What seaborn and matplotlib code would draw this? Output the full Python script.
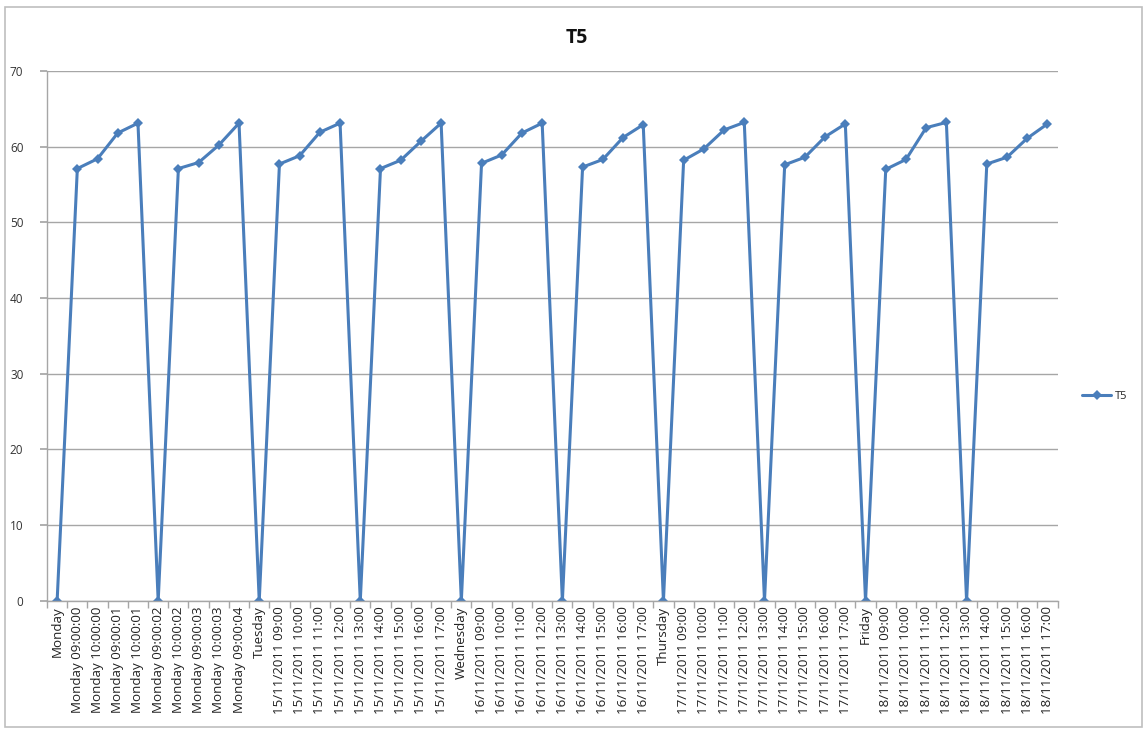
import matplotlib
matplotlib.use("Agg")
import matplotlib.pyplot as plt
import seaborn as sns
import pandas as pd
from matplotlib.patches import Rectangle

# Category labels along the x axis
categories = [
    "Monday", "Monday 09:00:00", "Monday 10:00:00", "Monday 09:00:01", "Monday 10:00:01",
    "Monday 09:00:02", "Monday 10:00:02", "Monday 09:00:03", "Monday 10:00:03", "Monday 09:00:04",
    "Tuesday", "15/11/2011 09:00", "15/11/2011 10:00", "15/11/2011 11:00", "15/11/2011 12:00",
    "15/11/2011 13:00", "15/11/2011 14:00", "15/11/2011 15:00", "15/11/2011 16:00", "15/11/2011 17:00",
    "Wednesday", "16/11/2011 09:00", "16/11/2011 10:00", "16/11/2011 11:00", "16/11/2011 12:00",
    "16/11/2011 13:00", "16/11/2011 14:00", "16/11/2011 15:00", "16/11/2011 16:00", "16/11/2011 17:00",
    "Thursday", "17/11/2011 09:00", "17/11/2011 10:00", "17/11/2011 11:00", "17/11/2011 12:00",
    "17/11/2011 13:00", "17/11/2011 14:00", "17/11/2011 15:00", "17/11/2011 16:00", "17/11/2011 17:00",
    "Friday", "18/11/2011 09:00", "18/11/2011 10:00", "18/11/2011 11:00", "18/11/2011 12:00",
    "18/11/2011 13:00", "18/11/2011 14:00", "18/11/2011 15:00", "18/11/2011 16:00", "18/11/2011 17:00",
]

# T5 readings
t5 = [
    0, 57.1, 58.4, 61.8, 63.1,
    0, 57.1, 57.9, 60.2, 63.1,
    0, 57.7, 58.8, 61.9, 63.1,
    0, 57.1, 58.2, 60.7, 63.1,
    0, 57.8, 58.9, 61.8, 63.1,
    0, 57.3, 58.3, 61.2, 62.9,
    0, 58.2, 59.7, 62.2, 63.2,
    0, 57.6, 58.6, 61.3, 63.0,
    0, 57.0, 58.3, 62.5, 63.2,
    0, 57.7, 58.6, 61.1, 63.0,
]

y_ticks = [0, 10, 20, 30, 40, 50, 60, 70]

sns.set_theme(style="white")
plt.rcParams["font.family"] = ["Open Sans", "DejaVu Sans"]

df = pd.DataFrame({"pos": range(len(categories)), "T5": t5})

fig = plt.figure(figsize=(11.47, 7.31), dpi=100)
fig.patch.set_facecolor("white")
fig.patches.append(Rectangle((0.004, 0.006), 0.992, 0.985, transform=fig.transFigure,
                             fill=False, edgecolor="#bfbfbf", linewidth=1.2))

ax = fig.add_axes([0.041, 0.178, 0.881, 0.725])
line_color = "#4a7ebb"
sns.lineplot(data=df, x="pos", y="T5", ax=ax, sort=False, color=line_color,
             linewidth=2.2, marker="D", markersize=5.5, markeredgewidth=0,
             label="T5", legend=False)

ax.set_xlim(-0.5, len(categories) - 0.5)
ax.set_ylim(0, 70)
ax.set_yticks(y_ticks)
ax.set_yticklabels([str(v) for v in y_ticks], fontsize=8.5, color="#333333")
ax.yaxis.grid(True, color="#a6a6a6", linewidth=1.0)
ax.set_axisbelow(True)

# Category labels centred on points, tick marks on category boundaries
ax.set_xticks(range(len(categories)))
ax.set_xticklabels(categories, rotation=90, fontsize=9.6, color="#222222")
ax.tick_params(axis="x", which="major", length=0, pad=4)
ax.set_xticks([i - 0.5 for i in range(len(categories) + 1)], minor=True)
ax.tick_params(axis="x", which="minor", length=5, color="#a6a6a6", direction="out", bottom=True)
ax.tick_params(axis="y", length=5, color="#a6a6a6", direction="out", left=True, pad=12)

for side in ["top", "right"]:
    ax.spines[side].set_visible(False)
for side in ["left", "bottom"]:
    ax.spines[side].set_color("#a6a6a6")
    ax.spines[side].set_linewidth(1.0)

ax.set_xlabel("")
ax.set_ylabel("")
fig.text(0.503, 0.948, "T5", ha="center", va="center", fontsize=14, fontweight="bold", color="#111111")

handles, labels = ax.get_legend_handles_labels()
fig.legend(handles, labels, loc="center left", bbox_to_anchor=(0.935, 0.458), frameon=False,
           fontsize=8, handlelength=2.6, handletextpad=0.3)

fig.savefig("out.png", dpi=100)
